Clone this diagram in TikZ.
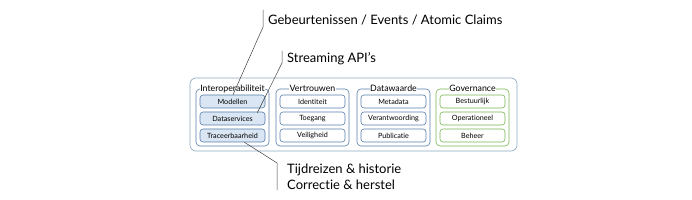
\documentclass[tikz,border=0pt]{standalone}
\usepackage{fontspec}
\setmainfont{Lato}[Ligatures=NoCommon]
\usepackage{xcolor}
\usetikzlibrary{positioning, calc}

\definecolor{frameblue}{HTML}{8AA6C2}
\definecolor{boxblue}{HTML}{557DAA}
\definecolor{fillblue}{HTML}{DAE6F3}
\definecolor{boxgreen}{HTML}{76B552}

\begin{document}
\begin{tikzpicture}[
    x=1pt, y=-1pt,
    frame/.style={draw=frameblue, rounded corners=6pt, line width=0.6pt},
    group/.style={draw=#1, rounded corners=4pt, minimum width=73pt, minimum height=57pt, line width=0.6pt},
    grouptitle/.style={fill=white, inner sep=0.5pt, font=\fontsize{8.8}{9}\selectfont},
    item/.style={draw=#1, rounded corners=3pt, minimum width=65pt, minimum height=13pt, inner sep=0pt, font=\fontsize{7.2}{7.5}\selectfont, line width=0.6pt},
    callout/.style={anchor=west, font=\fontsize{13}{15.5}\selectfont, align=left, inner sep=0pt},
    leader/.style={draw=black!75, line width=0.5pt}
]
\useasboundingbox (0,0) rectangle (692,200);

% Frame
\node[frame, minimum width=327pt, minimum height=73pt] (frame) at (353.5,114.5) {};

% Groups
\node[group=boxblue] (interop) at (232.5,117.5) {};
\node[group=boxblue] (trust) at (312.5,117.5) {};
\node[group=boxblue] (value) at (393.5,117.5) {};
\node[group=boxgreen] (gov) at (472.5,117.5) {};

\node[grouptitle] at (interop.north) {Interoperabiliteit};
\node[grouptitle] at (trust.north) {Vertrouwen};
\node[grouptitle] at (value.north) {Datawaarde};
\node[grouptitle] at (gov.north) {Governance};

% Items
\node[item=boxblue, fill=fillblue] (modellen) at (232.5,101.5) {Modellen};
\node[item=boxblue, fill=fillblue] (dataserv) at (232.5,118.5) {Dataservices};
\node[item=boxblue, fill=fillblue] (trace) at (232.5,135.5) {Traceerbaarheid};

\node[item=boxblue] (ident) at (312.5,101.5) {Identiteit};
\node[item=boxblue] (toegang) at (312.5,118.5) {Toegang};
\node[item=boxblue] (veilig) at (312.5,135.5) {Veiligheid};

\node[item=boxblue] (meta) at (393.5,101.5) {Metadata};
\node[item=boxblue] (verant) at (393.5,118.5) {Verantwoording};
\node[item=boxblue] (publ) at (393.5,135.5) {Publicatie};

\node[item=boxgreen] (bestuur) at (472.5,101.5) {Bestuurlijk};
\node[item=boxgreen] (operat) at (472.5,118.5) {Operationeel};
\node[item=boxgreen] (beheer) at (472.5,135.5) {Beheer};

% Callouts
\node[callout] (events) at (268,20) {Gebeurtenissen / Events / Atomic Claims};
\node[callout] (stream) at (287,59) {Streaming API’s};
\node[callout] (time) at (287,177) {Tijdreizen \& historie\\Correctie \& herstel};

\coordinate (eventsTop) at (263,10);
\coordinate (eventsBot) at (263,27);
\coordinate (streamTop) at (282,51);
\coordinate (streamBot) at (282,63);
\coordinate (timeTop) at (277,163);
\coordinate (timeBot) at (277,190);

\draw[leader] (eventsTop) -- (eventsBot) -- ([xshift=0.5pt]modellen.north);
\draw[leader] (streamTop) -- (streamBot) -- ([xshift=-8pt,yshift=-1pt]dataserv.north east);
\draw[leader] (timeBot) -- (timeTop) -- ([xshift=12pt]trace.south);

\end{tikzpicture}
\end{document}
